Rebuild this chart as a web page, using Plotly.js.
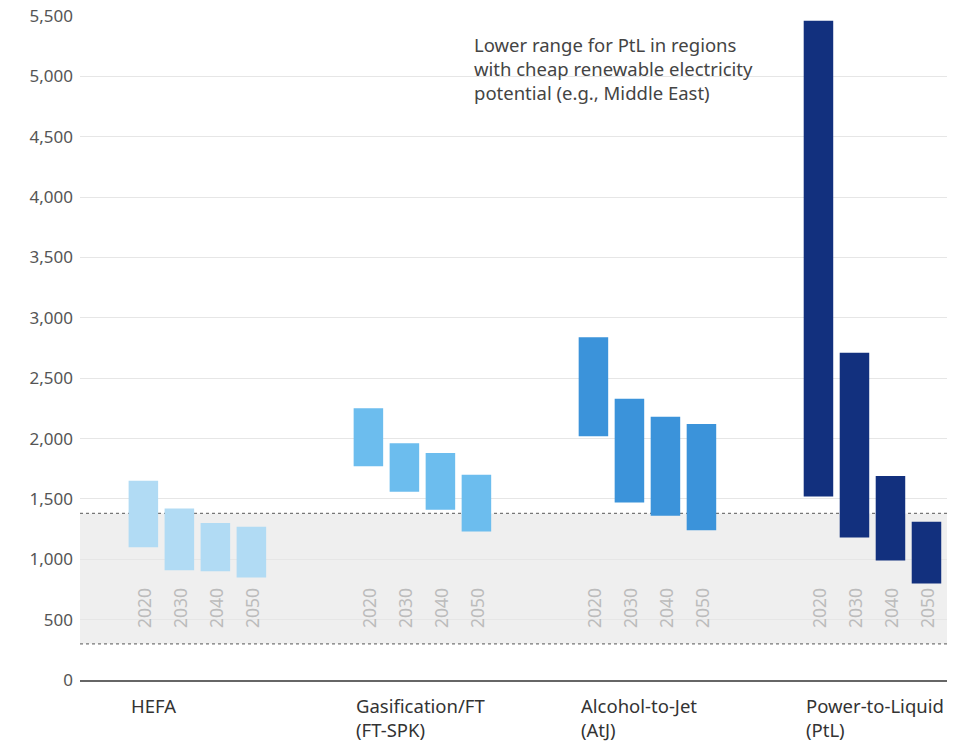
<!DOCTYPE html>
<html>
<head>
<meta charset="utf-8">
<script src="https://cdn.plot.ly/plotly-3.0.1.min.js"></script>
<style>html,body{margin:0;padding:0;background:#fff;}#chart{width:979px;height:744px;}</style>
</head>
<body>
<div id="chart"></div>
<script>
// ---- data ----
const categories = ['HEFA', 'Gasification/FT<br>(FT-SPK)', 'Alcohol-to-Jet<br>(AtJ)', 'Power-to-Liquid<br>(PtL)'];
const years = ['2020', '2030', '2040', '2050'];
const hefaLow  = [1100, 910, 900, 850];
const hefaHigh = [1650, 1420, 1300, 1270];
const gasLow   = [1770, 1560, 1410, 1230];
const gasHigh  = [2250, 1960, 1880, 1700];
const atjLow   = [2020, 1470, 1360, 1240];
const atjHigh  = [2840, 2330, 2180, 2120];
const ptlLow   = [1520, 1180, 990, 800];
const ptlHigh  = [5460, 2710, 1690, 1310];
const bandLow = 300;
const bandHigh = 1380;
const yTicks = [0, 500, 1000, 1500, 2000, 2500, 3000, 3500, 4000, 4500, 5000, 5500];
const noteText = 'Lower range for PtL in regions<br>with cheap renewable electricity<br>potential (e.g., Middle East)';

// ---- styling ----
const FONT = 'Noto Sans, Open Sans, sans-serif';
const colors = ['#b1dbf4', '#6cbdee', '#3b93da', '#12307e'];
const groupStep = 6.25;
const barWidth = 0.82;
const lows = [hefaLow, gasLow, atjLow, ptlLow];
const highs = [hefaHigh, gasHigh, atjHigh, ptlHigh];

const traces = [];
const annotations = [];
categories.forEach((cat, g) => {
  const xs = years.map((y, j) => g * groupStep + j);
  traces.push({
    type: 'bar',
    x: xs,
    base: lows[g],
    y: highs[g].map((h, j) => h - lows[g][j]),
    width: barWidth,
    marker: {color: colors[g], line: {width: 0}},
    name: cat,
    hoverinfo: 'skip',
    showlegend: false
  });
  years.forEach((yr, j) => {
    annotations.push({
      x: xs[j], y: 600, xref: 'x', yref: 'y',
      text: yr, showarrow: false, textangle: -90,
      font: {family: FONT, size: 17.5, color: '#bcbcbc'},
      xanchor: 'center', yanchor: 'middle'
    });
  });
  annotations.push({
    x: xs[0] - barWidth / 2, y: 0, xref: 'x', yref: 'y',
    text: cat, showarrow: false, align: 'left',
    xanchor: 'left', yanchor: 'top', yshift: -11,
    font: {family: FONT, size: 18.5, color: '#333'}
  });
});

annotations.push({
  x: 0.452, y: 0.979, xref: 'paper', yref: 'paper',
  text: noteText, showarrow: false, align: 'left',
  xanchor: 'left', yanchor: 'top',
  font: {family: FONT, size: 18.5, color: '#444'}
});

const shapes = [
  {type: 'rect', xref: 'paper', yref: 'y', x0: 0, x1: 1, y0: bandLow, y1: bandHigh,
   fillcolor: '#efefef', line: {width: 0}, layer: 'between'},
  {type: 'line', xref: 'paper', yref: 'y', x0: 0, x1: 1, y0: bandHigh, y1: bandHigh,
   line: {color: '#777', width: 1.2, dash: '3px,3px'}, layer: 'between'},
  {type: 'line', xref: 'paper', yref: 'y', x0: 0, x1: 1, y0: bandLow, y1: bandLow,
   line: {color: '#777', width: 1.2, dash: '3px,3px'}, layer: 'between'}
];

const layout = {
  width: 979, height: 744,
  margin: {l: 80, r: 32, t: 16, b: 64},
  paper_bgcolor: '#fff', plot_bgcolor: '#fff',
  font: {family: FONT, color: '#555'},
  barmode: 'overlay',
  xaxis: {
    range: [-1.76, 22.32], showgrid: false, zeroline: false,
    showticklabels: false, ticks: '',
    showline: true, linecolor: '#666', linewidth: 1.5, fixedrange: true
  },
  yaxis: {
    range: [0, 5500], tickvals: yTicks, tickformat: ',',
    showgrid: true, gridcolor: '#e6e6e6', gridwidth: 1,
    zeroline: false, showline: false, ticks: '',
    ticklabelstandoff: 6,
    tickfont: {family: FONT, size: 17, color: '#555'},
    fixedrange: true
  },
  shapes: shapes,
  annotations: annotations
};

Plotly.newPlot('chart', traces, layout, {displayModeBar: false, staticPlot: true});
</script>
</body>
</html>
